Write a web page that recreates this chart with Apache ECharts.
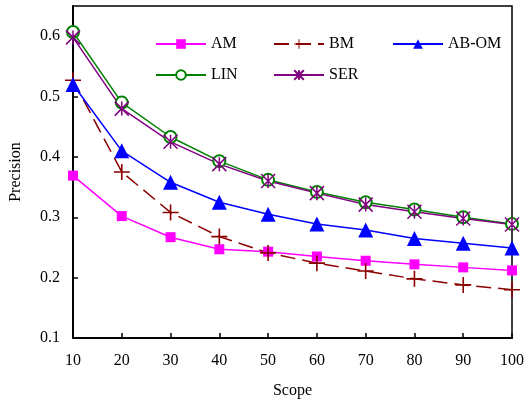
<!DOCTYPE html>
<html lang="en">
<head>
    <meta charset="UTF-8">
    <title>Precision vs Scope</title>
    <script src="https://cdn.jsdelivr.net/npm/echarts@6.0.0/dist/echarts.min.js"></script>
    <style>
        html, body { margin: 0; padding: 0; background: #fff; }
    </style>
</head>
<body>

    <div id="main" style="width:526px; height:400px;"></div>

    <script>
        // data
        var scope = [10, 20, 30, 40, 50, 60, 70, 80, 90, 100];
        var am   = [0.369, 0.302, 0.267, 0.247, 0.243, 0.235, 0.228, 0.222, 0.217, 0.212];
        var bm   = [0.527, 0.375, 0.308, 0.268, 0.241, 0.224, 0.211, 0.198, 0.188, 0.180];
        var abom = [0.520, 0.410, 0.358, 0.325, 0.305, 0.289, 0.279, 0.265, 0.257, 0.249];
        var lin  = [0.607, 0.490, 0.433, 0.393, 0.362, 0.342, 0.325, 0.313, 0.300, 0.289];
        var ser  = [0.598, 0.480, 0.425, 0.388, 0.360, 0.340, 0.321, 0.309, 0.298, 0.288];

        var font = '"Liberation Serif", "Times New Roman", serif';
        var plusPath = 'path://M9,0H11V9H20V11H11V20H9V11H0V9H9Z';
        var starPath = 'path://M0,0L20,20M20,0L0,20M10,0L10,20';

        function pairs(vals) {
            return scope.map(function (s, i) { return [s, vals[i]]; });
        }

        var charts = echarts.init(document.getElementById("main"));

        var legendBase = {
            orient: 'vertical',
            top: 36,
            padding: 0,
            itemWidth: 50,
            itemHeight: 12,
            itemGap: 15,
            textStyle: { fontFamily: font, fontSize: 16, color: '#000', lineHeight: 16 },
            selectedMode: false
        };

        var options = {
            animation: false,
            grid: {
                left: 73, right: 14, top: 6, bottom: 62,
                containLabel: false,
                outerBoundsMode: 'none',
                show: true,
                borderColor: '#000',
                borderWidth: 1.5
            },
            legend: [
                Object.assign({}, legendBase, { left: 155, data: ['AM', 'LIN'] }),
                Object.assign({}, legendBase, { left: 273, data: ['BM', 'SER'] }),
                Object.assign({}, legendBase, { left: 392, data: ['AB-OM'] })
            ],
            xAxis: {
                type: 'value',
                min: 10, max: 100, interval: 10,
                name: 'Scope',
                nameLocation: 'middle',
                nameGap: 45,
                nameTextStyle: { fontFamily: font, fontSize: 16, color: '#000' },
                axisLine: { lineStyle: { color: '#000', width: 2 } },
                axisTick: { inside: true, length: 5, lineStyle: { color: '#000', width: 1.5 } },
                axisLabel: { fontFamily: font, fontSize: 16, color: '#000', margin: 15 },
                splitLine: { show: false }
            },
            yAxis: {
                type: 'value',
                min: 0.1, max: 0.65, interval: 0.1,
                name: 'Precision',
                nameLocation: 'middle',
                nameGap: 49,
                nameTextStyle: { fontFamily: font, fontSize: 16, color: '#000' },
                axisLine: { show: true, lineStyle: { color: '#000', width: 2 } },
                axisTick: { show: true, inside: true, length: 5, lineStyle: { color: '#000', width: 1.5 } },
                axisLabel: {
                    fontFamily: font, fontSize: 16, color: '#000', margin: 13,
                    showMaxLabel: false,
                    formatter: function (v) { return v.toFixed(1); }
                },
                splitLine: { show: false }
            },
            series: [
                {
                    name: 'AM', type: 'line', data: pairs(am),
                    symbol: 'rect', symbolSize: 10,
                    lineStyle: { color: '#ff00ff', width: 1.5 },
                    itemStyle: { color: '#ff00ff' }
                },
                {
                    name: 'BM', type: 'line', data: pairs(bm),
                    symbol: plusPath, symbolSize: 16,
                    lineStyle: { color: '#8b0000', width: 1.5, type: [15, 7] },
                    itemStyle: { color: '#8b0000' }
                },
                {
                    name: 'AB-OM', type: 'line', data: pairs(abom),
                    symbol: 'triangle', symbolSize: 15,
                    lineStyle: { color: '#0000ff', width: 1.5 },
                    itemStyle: { color: '#0000ff' }
                },
                {
                    name: 'LIN', type: 'line', data: pairs(lin),
                    symbol: 'emptyCircle', symbolSize: 12,
                    lineStyle: { color: '#008000', width: 1.5 },
                    itemStyle: { color: '#008000', borderColor: '#008000', borderWidth: 1.3 }
                },
                {
                    name: 'SER', type: 'line', data: pairs(ser),
                    symbol: starPath, symbolSize: 14,
                    lineStyle: { color: '#800080', width: 1.5 },
                    itemStyle: { color: '#800080', borderColor: '#800080', borderWidth: 1.5 }
                }
            ]
        };

        charts.setOption(options);
    </script>
</body>
</html>
